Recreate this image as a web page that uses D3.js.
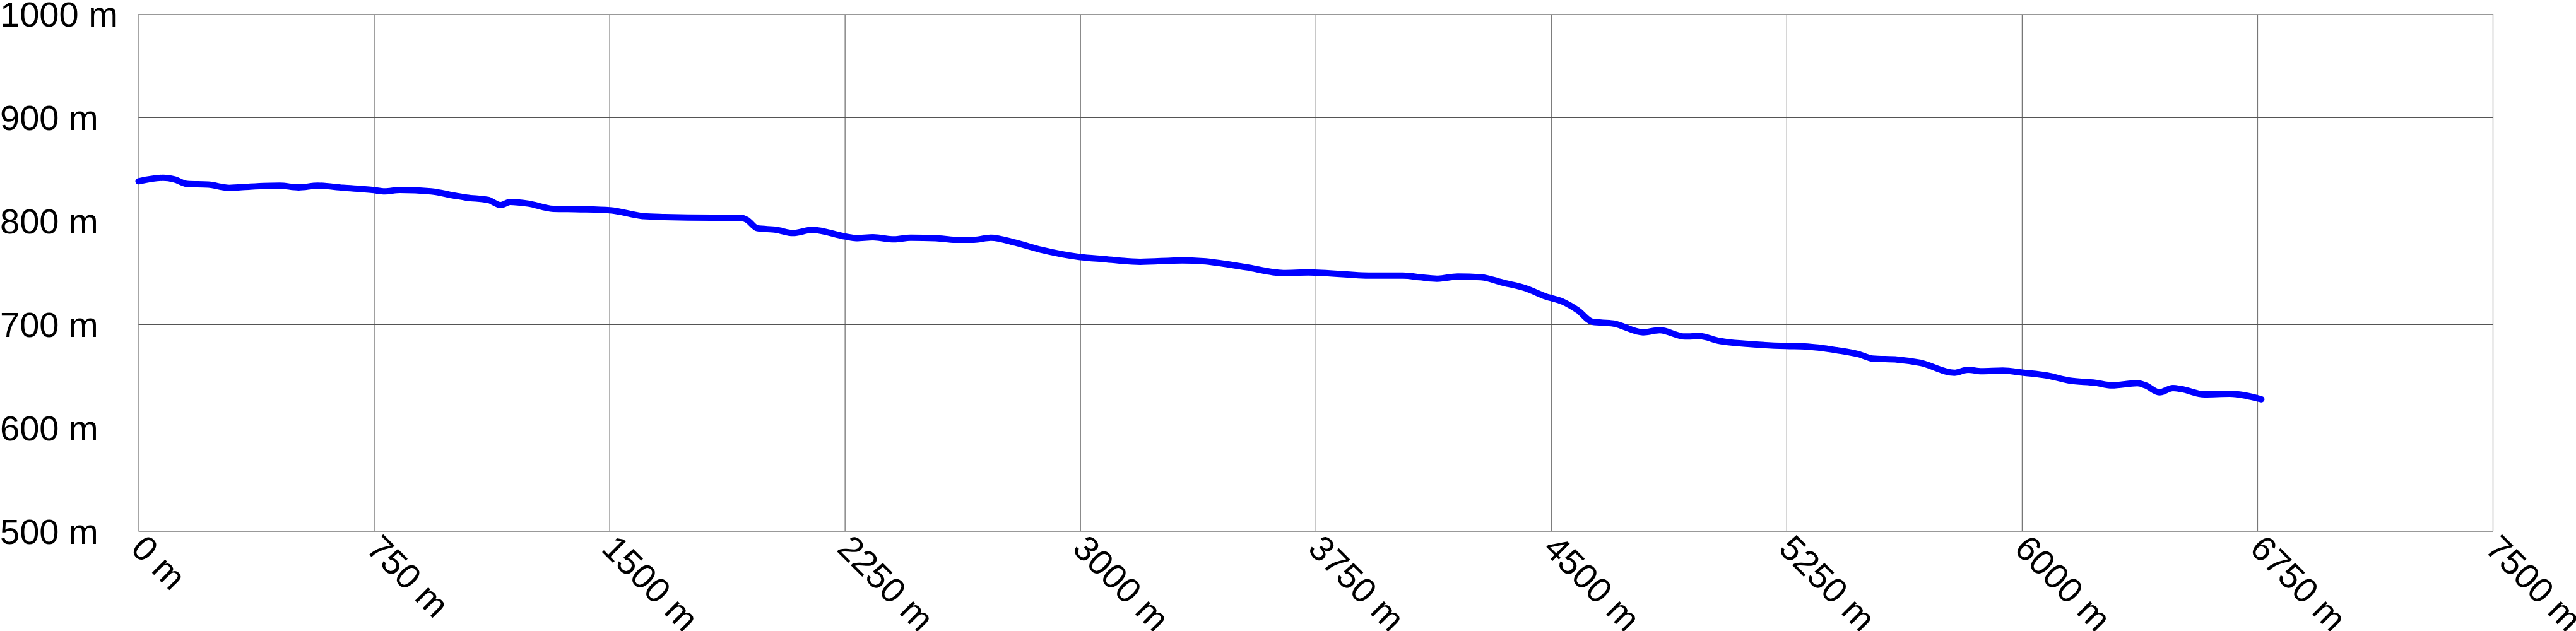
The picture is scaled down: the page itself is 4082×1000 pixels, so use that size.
<!DOCTYPE html>
<html>
<head>
<meta charset="utf-8">
<script src="https://cdn.jsdelivr.net/npm/d3@7"></script>
<style>
  html, body { margin: 0; padding: 0; background: #fff; }
  svg { display: block; }
  text { font-family: "Liberation Sans", Arial, sans-serif; }
</style>
</head>
<body>
<svg id="chart" width="4082" height="1000"></svg>
<script>
const distances = [0, 78, 115, 155, 222, 289, 356, 450, 510, 571, 651, 745, 785, 832, 932, 1006, 1046, 1113, 1154, 1184, 1241, 1321, 1408, 1502, 1609, 1676, 1824, 1918, 1938, 1971, 2032, 2085, 2146, 2253, 2286, 2340, 2407, 2460, 2541, 2601, 2662, 2715, 2796, 2876, 2997, 3077, 3191, 3325, 3392, 3526, 3647, 3727, 3928, 4029, 4082, 4136, 4203, 4277, 4350, 4417, 4484, 4538, 4585, 4632, 4699, 4793, 4846, 4927, 4974, 5034, 5128, 5248, 5309, 5410, 5483, 5524, 5604, 5677, 5785, 5828, 5871, 5939, 6006, 6079, 6153, 6234, 6287, 6368, 6394, 6438, 6481, 6508, 6582, 6662, 6763];
const elevations = [838.2, 841.6, 840, 835.6, 835, 831.9, 833.1, 834, 832.3, 834, 832, 829.9, 828.5, 829.9, 828.5, 824.4, 822.4, 820.3, 815.2, 818.3, 816.7, 811.6, 811.2, 810.2, 804.5, 803.7, 803, 803, 801, 792.9, 791.3, 788.2, 791.3, 784.8, 783.3, 784.1, 782.1, 783.7, 783.3, 781.7, 781.7, 783.7, 778.7, 772, 765.1, 763, 760.4, 761.8, 761, 755.3, 749.6, 750.2, 747.1, 747.1, 745.5, 744.1, 746.2, 745.5, 740, 735, 726.8, 721.8, 713.6, 702.4, 700.8, 692.3, 694.3, 688.2, 688.6, 684.1, 681.1, 679.1, 678.7, 675, 670.9, 666.9, 665.9, 662.8, 653.2, 656.1, 654.7, 655.3, 653.2, 650.6, 645.6, 643.5, 641, 643.1, 641, 634.3, 638.4, 637.4, 632.3, 632.9, 627.6];
const xTicks = [0, 750, 1500, 2250, 3000, 3750, 4500, 5250, 6000, 6750, 7500];
const yTicks = [500, 600, 700, 800, 900, 1000];

(function () {
  const svg = d3.select("#chart");
  const plotLeft = 219.5, plotRight = 3950, plotTop = 22, plotBottom = 842;

  const x = d3.scaleLinear().domain([0, 7500]).range([plotLeft, plotRight]);
  const y = d3.scaleLinear().domain([500, 1000]).range([plotBottom, plotTop]);

  svg.append("rect").attr("width", 4082).attr("height", 1000).attr("fill", "#fff");

  // vertical gridlines
  const vGrid = svg.append("g").attr("transform", `translate(0,${plotBottom})`)
    .call(d3.axisBottom(x).tickValues(xTicks).tickSize(-(plotBottom - plotTop)).tickFormat(""));
  vGrid.select(".domain").remove();
  vGrid.selectAll("line").attr("stroke", "#777").attr("stroke-width", 1.3);

  // horizontal gridlines
  const hGrid = svg.append("g").attr("transform", `translate(${plotLeft},0)`)
    .call(d3.axisLeft(y).tickValues(yTicks).tickSize(-(plotRight - plotLeft)).tickFormat(""));
  hGrid.select(".domain").remove();
  hGrid.selectAll("line").attr("stroke", "#555").attr("stroke-width", 1);
  hGrid.selectAll(".tick").filter(d => d === 1000 || d === 500).select("line").attr("stroke", "#999");

  // y labels
  const yAxis = svg.append("g")
    .call(d3.axisRight(y).tickValues(yTicks).tickSize(0).tickPadding(0).tickFormat(d => d + " m"));
  yAxis.select(".domain").remove();
  yAxis.selectAll("text")
    .attr("x", 0).attr("dy", "0.35em")
    .attr("font-size", 56).attr("fill", "#000")
    .attr("font-family", '"Liberation Sans", Arial, sans-serif');

  // x labels
  const xAxis = svg.append("g").attr("transform", `translate(0,${plotBottom})`)
    .call(d3.axisBottom(x).tickValues(xTicks).tickSize(0).tickFormat(d => d + " m"));
  xAxis.select(".domain").remove();
  xAxis.selectAll("text")
    .attr("x", 0).attr("y", 0).attr("dy", 0)
    .attr("text-anchor", "start")
    .attr("transform", "translate(-15,30) rotate(45)")
    .attr("font-size", 56).attr("fill", "#000")
    .attr("font-family", '"Liberation Sans", Arial, sans-serif');

  // profile line
  const data = distances.map((d, i) => ({ d, e: elevations[i] }));
  const line = d3.line().x(p => x(p.d)).y(p => y(p.e)).curve(d3.curveMonotoneX);
  svg.append("path")
    .datum(data)
    .attr("d", line)
    .attr("fill", "none")
    .attr("stroke", "#0000ff")
    .attr("stroke-width", 10)
    .attr("stroke-linecap", "round")
    .attr("stroke-linejoin", "round");
})();
</script>
</body>
</html>
